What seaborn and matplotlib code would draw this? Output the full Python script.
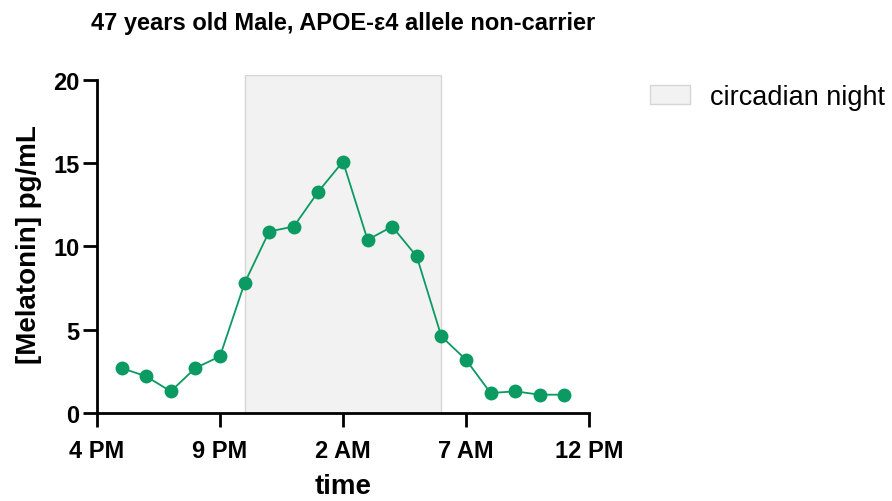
import matplotlib
matplotlib.use("Agg")
import matplotlib.pyplot as plt
import matplotlib.patches as mpatches
import pandas as pd
import seaborn as sns

# Sampling times in hours from midnight of the first day (17 = 5 PM ... 35 = 11 AM next day)
hours = [17, 18, 19, 20, 21, 22, 23, 24, 25, 26, 27, 28, 29, 30, 31, 32, 33, 34, 35]
melatonin = [2.7, 2.2, 1.3, 2.7, 3.4, 7.8, 10.9, 11.2, 13.3, 15.1, 10.4, 11.2, 9.4,
             4.6, 3.2, 1.2, 1.3, 1.1, 1.1]

# Circadian night window (10 PM to 6 AM)
night_start = 22
night_end = 30

tick_hours = [16, 21, 26, 31, 36]
tick_labels = ["4 PM", "9 PM", "2 AM", "7 AM", "12 PM"]

title = "47 years old Male, APOE-\u03b54 allele non-carrier"
green = "#0a9a62"
night_fill = "#f2f2f2"
night_edge = "#d6d6d6"

sns.set_style("ticks")
plt.rcParams["font.family"] = ["Liberation Sans", "DejaVu Sans"]
plt.rcParams["text.color"] = "black"
plt.rcParams["axes.labelcolor"] = "black"
plt.rcParams["xtick.color"] = "black"
plt.rcParams["ytick.color"] = "black"

df = pd.DataFrame({"time": hours, "melatonin": melatonin})

fig = plt.figure(figsize=(8.92, 5.02), dpi=100)
ax = fig.add_axes([0.1087, 0.1753, 0.5516, 0.6733])

ax.axvspan(night_start, night_end, ymin=0, ymax=1, facecolor=night_fill,
           edgecolor=night_edge, linewidth=1.0, zorder=0)

sns.lineplot(data=df, x="time", y="melatonin", ax=ax, color=green,
             linewidth=1.3, marker="o", markersize=10, markeredgewidth=0,
             markerfacecolor=green, zorder=3)

ax.set_xlim(16, 36)
ax.set_ylim(0, 20.3)
ax.set_xticks(tick_hours)
ax.set_xticklabels(tick_labels)
ax.set_yticks([0, 5, 10, 15, 20])

for side in ("top", "right"):
    ax.spines[side].set_visible(False)
for side in ("left", "bottom"):
    ax.spines[side].set_linewidth(2.0)
    ax.spines[side].set_color("black")
ax.spines["left"].set_bounds(0, 20)

ax.tick_params(axis="both", which="major", length=10, width=2.0,
               color="black", labelsize=17)
ax.tick_params(axis="x", pad=8.5)
ax.tick_params(axis="y", pad=2.5)
for lab in ax.get_xticklabels() + ax.get_yticklabels():
    lab.set_fontweight("bold")

ax.set_xlabel("time", fontsize=20, fontweight="bold", labelpad=8)
ax.set_ylabel("[Melatonin] pg/mL", fontsize=20, fontweight="bold", labelpad=8)
ax.set_title(title, fontsize=17, fontweight="bold", pad=33)

night_patch = mpatches.Patch(facecolor=night_fill, edgecolor=night_edge,
                             linewidth=1.0, label="circadian night")
ax.legend(handles=[night_patch], loc="center left", bbox_to_anchor=(1.124, 0.935),
          frameon=False, fontsize=19.5, handlelength=1.48, handleheight=0.67,
          handletextpad=0.74, borderpad=0.0, borderaxespad=0.0)

fig.savefig("out.png", dpi=100)
